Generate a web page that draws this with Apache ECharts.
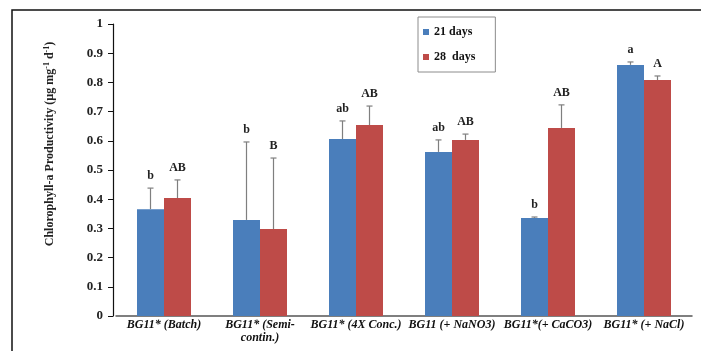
<!DOCTYPE html>
<html>
<head>
<meta charset="utf-8">
<script src="https://cdn.jsdelivr.net/npm/echarts@6/dist/echarts.min.js"></script>
<style>html,body{margin:0;padding:0;background:#fff}#c{width:701px;height:351px}</style>
</head>
<body>
<div id="c"></div>
<script>
const categories = ['BG11* (Batch)', 'BG11* (Semi-\ncontin.)', 'BG11* (4X Conc.)', 'BG11 (+ NaNO3)', 'BG11*(+ CaCO3)', 'BG11* (+ NaCl)'];
const days21 = [0.366, 0.329, 0.606, 0.562, 0.336, 0.860];
const err21 = [0.072, 0.267, 0.062, 0.041, 0.003, 0.010];
const sig21 = ['b', 'b', 'ab', 'ab', 'b', 'a'];
const days28 = [0.404, 0.298, 0.654, 0.603, 0.644, 0.808];
const err28 = [0.062, 0.243, 0.065, 0.020, 0.079, 0.014];
const sig28 = ['AB', 'B', 'AB', 'AB', 'AB', 'A'];
const yTicks = [0, 0.1, 0.2, 0.3, 0.4, 0.5, 0.6, 0.7, 0.8, 0.9, 1];

const BAR_W = 27;
const serif = 'Liberation Serif';

function errSeries(vals, errs, sigs, side) {
  return {
    type: 'custom',
    silent: true,
    z: 5,
    data: vals.map((v, i) => [i, v + errs[i]]),
    encode: { x: 0, y: 1 },
    renderItem: function (params, api) {
      const i = params.dataIndex;
      const base = api.coord([i, vals[i]]);
      const top = api.coord([i, vals[i] + errs[i]]);
      const x = base[0] + side * BAR_W / 2;
      return {
        type: 'group',
        children: [
          { type: 'line', shape: { x1: x, y1: base[1], x2: x, y2: top[1] }, style: { stroke: '#7f7f7f', lineWidth: 1.2 } },
          { type: 'line', shape: { x1: x - 3, y1: top[1], x2: x + 3, y2: top[1] }, style: { stroke: '#7f7f7f', lineWidth: 1.2 } },
          { type: 'text', x: x, y: top[1] - 12, style: { text: sigs[i], fontFamily: serif, fontWeight: 'bold', fontSize: 12, fill: '#222', align: 'center', verticalAlign: 'middle' } }
        ]
      };
    }
  };
}

const chart = echarts.init(document.getElementById('c'));
chart.setOption({
  backgroundColor: '#fff',
  animation: false,
  grid: { left: 116, right: 9, top: 24, bottom: 35, containLabel: false },
  legend: {
    left: 418, top: 17,
    orient: 'vertical',
    data: ['21 days', '28  days'],
    itemWidth: 6, itemHeight: 6, icon: 'rect',
    itemGap: 13,
    padding: [9, 20, 9, 5],
    borderColor: '#8c8c8c', borderWidth: 1,
    textStyle: { fontFamily: serif, fontWeight: 'bold', fontSize: 12, color: '#111', lineHeight: 12 }
  },
  xAxis: {
    type: 'category',
    data: categories,
    axisLine: { lineStyle: { color: '#555', width: 1.5 } },
    axisTick: { show: false },
    axisLabel: { interval: 0, margin: 2, fontFamily: serif, fontWeight: 'bold', fontStyle: 'italic', fontSize: 12, color: '#111', lineHeight: 13 }
  },
  yAxis: {
    type: 'value',
    min: 0, max: 1, interval: 0.1,
    offset: 3,
    axisLine: { show: true, lineStyle: { color: '#111', width: 1.2 } },
    axisTick: { show: true, length: 5, inside: false, lineStyle: { color: '#111' } },
    splitLine: { show: false },
    axisLabel: {
      margin: 10, fontFamily: serif, fontWeight: 'bold', fontSize: 13, color: '#222',
      formatter: function (v) { const m = yTicks.find(t => Math.abs(t - v) < 1e-6); return m === undefined ? '' : String(Math.round(m * 10) / 10); }
    }
  },
  series: [
    { name: '21 days', type: 'bar', data: days21, barWidth: BAR_W, barGap: '0%', itemStyle: { color: '#4a7ebb' } },
    { name: '28  days', type: 'bar', data: days28, barWidth: BAR_W, barGap: '0%', itemStyle: { color: '#be4b48' } },
    errSeries(days21, err21, sig21, -1),
    errSeries(days28, err28, sig28, 1)
  ],
  graphic: [
    { type: 'rect', shape: { x: 12, y: 10, width: 720, height: 360 }, style: { fill: 'none', stroke: '#111', lineWidth: 1.5 }, silent: true },
    {
      type: 'text', x: 50, y: 144, rotation: Math.PI / 2,
      style: {
        text: 'Chlorophyll-a Productivity (µg mg{sup|-1} d{sup|-1})',
        fontFamily: serif, fontWeight: 'bold', fontSize: 12, fill: '#222',
        align: 'center', verticalAlign: 'middle',
        rich: { sup: { fontFamily: serif, fontWeight: 'bold', fontSize: 8, fill: '#222', padding: [0, 0, 6, 0] } }
      }
    }
  ]
});
</script>
</body>
</html>
